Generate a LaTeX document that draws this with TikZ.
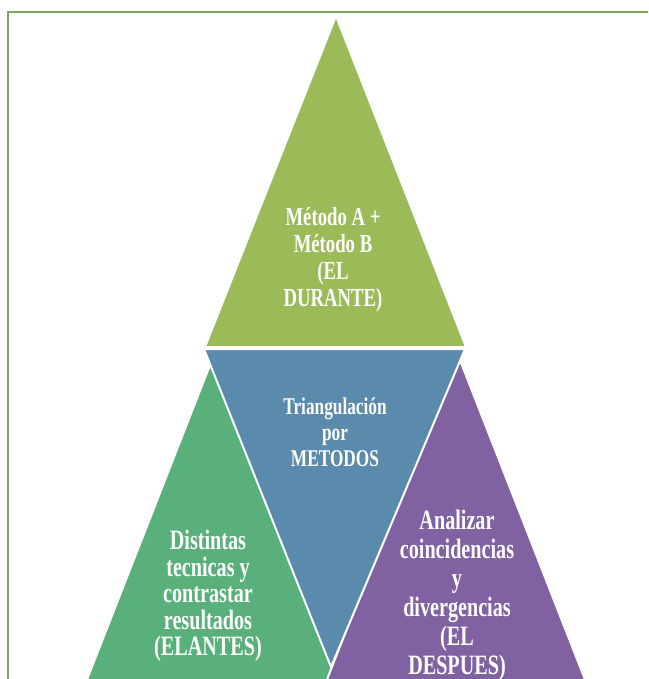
\documentclass[tikz,border=0pt]{standalone}
\usepackage{fontspec}
\setmainfont{Liberation Serif}
\newfontfamily\narrowserif[FakeStretch=0.72]{Liberation Serif}
\usepackage{color}

\definecolor{framegreen}{RGB}{122,168,94}
\definecolor{topgreen}{RGB}{155,187,89}
\definecolor{midblue}{RGB}{91,139,172}
\definecolor{leftgreen}{RGB}{90,176,123}
\definecolor{rightpurple}{RGB}{128,98,163}

\begin{document}
\begin{tikzpicture}[%
      x=1pt,y=-1pt,
      segment/.style={draw=white,line width=2pt,line join=miter},
      label/.style={text=white,align=center,inner sep=0pt,
        font=\narrowserif\bfseries\fontsize{26}{27}\selectfont},
      ]
      \useasboundingbox (0,0) rectangle (648,679);
      \clip (0,0) rectangle (648,679);
      \fill [white] (0,0) rectangle (648,679);
      \draw [color=framegreen, line width=2pt] (7.5,12.5) rectangle (720,740);
      
      % the two lower triangles
      \filldraw [segment, fill=leftgreen] (212,360) -- (79,700) -- (345,700) -- cycle;
      \filldraw [segment, fill=rightpurple] (456,350) -- (319,700) -- (593,700) -- cycle;
      
      % middle (upside down) and top triangle
      \filldraw [segment, fill=midblue] (204,349) -- (465,349) -- (331,667) -- cycle;
      \filldraw [segment, fill=topgreen] (336,16) -- (466,347) -- (205,347) -- cycle;
      
      \node [label] (durante) at (333,260) {Método A +\\Método B\\(EL\\DURANTE)};
      \node [label, font=\narrowserif\bfseries\fontsize{24}{26}\selectfont]
            (metodos) at (335,432) {Triangulación\\por\\METODOS};
      \node [label, font=\narrowserif\bfseries\fontsize{28}{26.5}\selectfont]
            (antes) at (208,596) {Distintas\\tecnicas y\\contrastar\\resultados\\(ELANTES)};
      \node [label, font=\narrowserif\bfseries\fontsize{28}{29}\selectfont]
            (despues) at (457,595) {Analizar\\coincidencias\\y\\divergencias\\(EL\\DESPUES)};
\end{tikzpicture}
\end{document}
